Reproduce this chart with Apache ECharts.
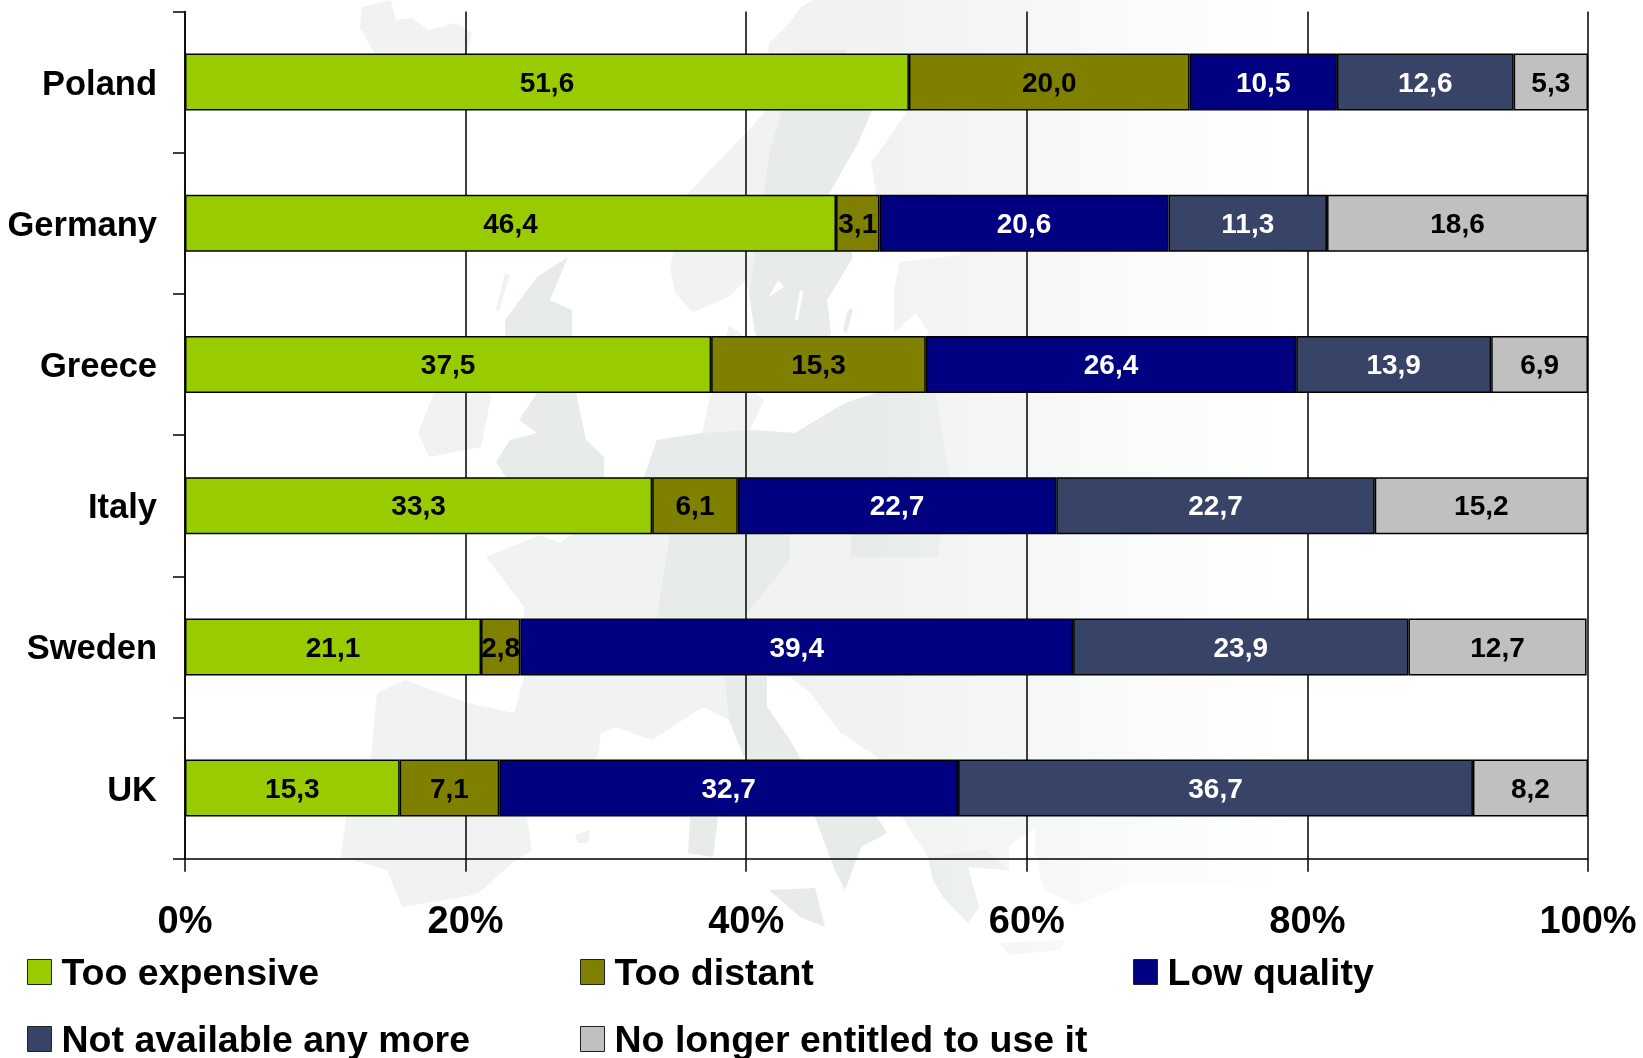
<!DOCTYPE html>
<html><head><meta charset="utf-8">
<style>html,body{margin:0;padding:0;background:#fff}#c{width:1643px;height:1058px}</style>
<script src="https://cdn.jsdelivr.net/npm/echarts@6/dist/echarts.min.js"></script>
</head><body><div id="c"></div>
<script>
const categories = ['Poland','Germany','Greece','Italy','Sweden','UK'];
const seriesNames = ['Too expensive','Too distant','Low quality','Not available any more','No longer entitled to use it'];
const tooExpensive = [51.6,46.4,37.5,33.3,21.1,15.3];
const tooDistant = [20.0,3.1,15.3,6.1,2.8,7.1];
const lowQuality = [10.5,20.6,26.4,22.7,39.4,32.7];
const notAvailable = [12.6,11.3,13.9,22.7,23.9,36.7];
const noLonger = [5.3,18.6,6.9,15.2,12.7,8.2];
const seriesValues = [tooExpensive,tooDistant,lowQuality,notAvailable,noLonger];
const colors = ['#99CC00','#808000','#000080','#384368','#C0C0C0'];
const labelColors = ['#000','#000','#fff','#fff','#000'];
const legendSpots = [[27,956],[580,956],[1133,956],[27,1023],[580,1023]];
const font = '"Liberation Sans", Arial, sans-serif';

// faint decorative map of Europe behind the plot
const land = [[813,0],[1350,0],[1350,880],[1240,885],[1133,882],[1075,905],[1045,890],[1035,850],[1035,828],[1009,845],[1009,870],[968,867],[979,907],[968,923],[943,897],[933,880],[928,857],[902,817],[877,757],[841,733],[810,693],[790,677],[767,677],[767,707],[790,740],[800,758],[877,817],[887,833],[861,847],[845,890],[835,870],[815,817],[744,757],[729,720],[703,707],[652,740],[616,727],[601,733],[598,757],[527,817],[532,850],[512,863],[479,893],[463,897],[402,907],[387,870],[341,857],[346,817],[371,757],[377,693],[405,680],[468,703],[514,713],[524,677],[524,607],[486,557],[540,535],[560,543],[590,520],[644,477],[657,440],[702,433],[711,393],[729,325],[742,335],[745,385],[764,400],[750,430],[795,433],[845,403],[876,393],[900,370],[929,333],[916,313],[894,333],[894,290],[900,262],[960,255],[960,235],[880,220],[876,193],[871,163],[907,112],[895,60],[871,113],[858,143],[827,197],[853,257],[827,300],[831,333],[815,360],[775,385],[755,333],[749,293],[746,280],[729,297],[693,312],[675,293],[670,267],[688,193],[746,133],[764,113],[769,43],[790,22],[800,8]];
const darkShapes = [
 [[702,433],[750,430],[795,433],[845,403],[876,393],[935,393],[950,478],[938,557],[851,557],[851,535],[790,510],[790,560],[744,617],[657,617],[670,533],[644,477],[657,440]],
 [[827,197],[853,257],[827,300],[831,333],[815,360],[775,385],[755,333],[749,293],[770,150],[800,50],[845,50],[871,113],[858,143]],
 [[568,257],[537,277],[505,320],[505,333],[520,380],[537,393],[519,420],[537,433],[510,440],[496,462],[520,500],[590,520],[604,477],[604,457],[586,440],[577,397],[572,340],[572,310],[550,300]],
 [[725,677],[767,677],[767,707],[790,740],[800,758],[877,817],[887,833],[861,847],[845,890],[835,870],[815,817],[744,757],[729,720]],
 [[968,867],[979,907],[968,923],[943,897],[933,880],[928,857],[985,850],[1009,870]],
 [[690,817],[718,817],[713,857],[688,853]],
 [[769,890],[815,888],[825,927],[800,917]],
 [[853,308],[847,333],[843,330],[848,310]]
];
const lightShapes = [
 [[362,7],[391,0],[396,20],[412,18],[429,30],[456,23],[472,33],[465,60],[378,60],[360,28]],
 [[434,393],[450,365],[480,365],[492,393],[481,447],[429,457],[418,433]],
 [[505,273],[496,310],[499,311],[510,275]],
 [[999,943],[1065,940],[1060,950],[1009,955]],
 [[575,835],[590,830],[588,843],[578,843]],
 [[1040,830],[1040,880],[1075,905],[1133,882],[1240,885],[1240,830]]
];
const waterShapes = [
 [[778,280],[769,297],[784,287]],
 [[800,290],[795,320],[798,320],[803,292]]
];
const fade = (c)=>({type:'linear',x:880,y:0,x2:1290,y2:0,global:true,colorStops:[{offset:0,color:c},{offset:1,color:'#ffffff'}]});
const poly = (pts,fill,z)=>({type:'polygon',silent:true,z:z,shape:{points:pts},style:{fill:fill}});
const mapEls = [poly(land,fade('#f0f3f2'),-30)]
 .concat(lightShapes.map(p=>poly(p,fade('#f0f3f2'),-30)))
 .concat(darkShapes.map(p=>poly(p,fade('#e7ecea'),-29)))
 .concat(waterShapes.map(p=>poly(p,'#ffffff',-28)));

const chart = echarts.init(document.getElementById('c'),null,{renderer:'canvas'});
chart.setOption({
 animation:false,
 backgroundColor:'#fff',
 graphic:{elements:mapEls},
 grid:{left:185,right:55,top:11.5,bottom:199.3,containLabel:false},
 xAxis:{type:'value',min:0,max:100,interval:20,
  axisLine:{show:true,lineStyle:{color:'#000',width:1.5}},
  axisTick:{show:true,length:13,lineStyle:{color:'#000',width:1.5}},
  splitLine:{show:true,lineStyle:{color:'#000',width:1.5}},
  axisLabel:{formatter:'{value}%',fontFamily:font,fontWeight:'bold',fontSize:38,color:'#000',margin:45,hideOverlap:false}},
 yAxis:{type:'category',inverse:true,data:categories,
  axisLine:{show:true,lineStyle:{color:'#000',width:1.5}},
  axisTick:{show:true,length:12,alignWithLabel:false,lineStyle:{color:'#000',width:1.5}},
  splitLine:{show:false},
  axisLabel:{formatter:'{a|{value}}',margin:28,
   rich:{a:{fontFamily:font,fontWeight:'bold',fontSize:34.5,color:'#000',padding:[6,0,0,0]}}}},
 legend:seriesNames.map((n,i)=>({data:[n],left:legendSpots[i][0],top:legendSpots[i][1],padding:0,
  itemWidth:24,itemHeight:25,icon:'rect',selectedMode:false,
  itemStyle:{borderColor:'#222',borderWidth:1},
  formatter:'{a|{name}}',
  textStyle:{rich:{a:{fontFamily:font,fontWeight:'bold',fontSize:37.5,color:'#000',padding:[6,0,0,5]}}}})),
 series:seriesNames.map((n,i)=>({name:n,type:'bar',stack:'total',barWidth:57,data:seriesValues[i],
  itemStyle:{color:colors[i],borderColor:'#000',borderWidth:1.5},
  label:{show:true,position:'inside',offset:[0,2],color:labelColors[i],fontFamily:font,fontWeight:'bold',fontSize:28,
   formatter:p=>p.value.toFixed(1).replace('.',',')}}))
});
</script></body></html>
